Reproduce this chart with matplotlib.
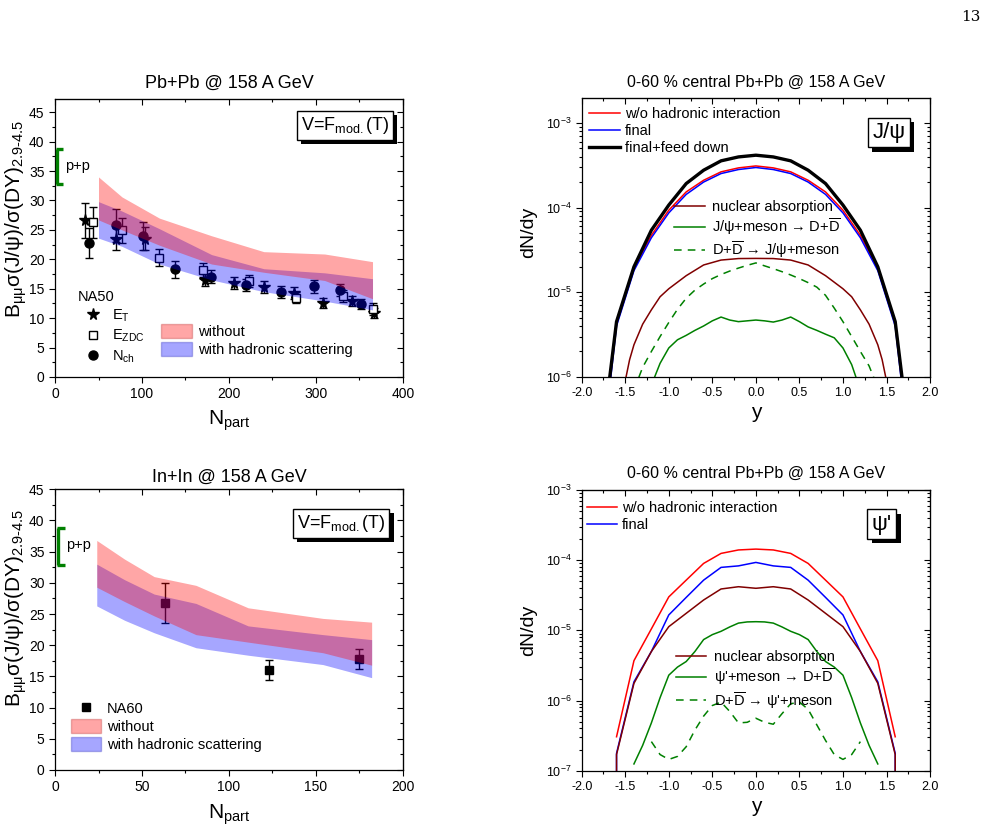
import numpy as np
import matplotlib
matplotlib.use('Agg')
import matplotlib.pyplot as plt
import matplotlib.patheffects as pe
from matplotlib.lines import Line2D
from matplotlib.patches import Patch
from matplotlib.ticker import MultipleLocator, LogLocator, NullFormatter, FormatStrFormatter

plt.rcParams['font.family'] = ['Liberation Sans', 'DejaVu Sans']
plt.rcParams['mathtext.fontset'] = 'custom'
plt.rcParams['mathtext.rm'] = 'Liberation Sans'
plt.rcParams['mathtext.it'] = 'Liberation Sans:italic'
plt.rcParams['mathtext.bf'] = 'Liberation Sans:bold'
plt.rcParams['mathtext.sf'] = 'Liberation Sans'
plt.rcParams['mathtext.default'] = 'regular'
plt.rcParams['axes.unicode_minus'] = False

# ---------------- Pb+Pb (NA50) ----------------
et_npart = [34, 70, 104, 172, 206, 240, 275, 308, 341, 367]
et_ratio = [26.6, 23.4, 23.5, 16.5, 16.0, 15.3, 14.3, 12.6, 12.9, 10.9]
et_err = [3.0, 1.9, 2.0, 1.0, 1.0, 1.0, 1.0, 0.8, 0.9, 0.8]
zdc_npart = [44, 77, 119, 170, 223, 277, 331, 366]
zdc_ratio = [26.3, 24.9, 20.3, 18.2, 16.3, 13.5, 13.7, 11.5]
zdc_err = [2.6, 2.1, 1.4, 1.2, 1.0, 0.9, 1.0, 1.0]
nch_npart = [39, 70, 101, 138, 179, 220, 260, 298, 328, 352]
nch_ratio = [22.8, 25.8, 24.0, 18.3, 17.0, 15.6, 14.5, 15.4, 14.8, 12.4]
nch_err = [2.6, 2.8, 2.4, 1.4, 1.1, 1.0, 1.0, 1.1, 1.0, 0.9]

pb_band_npart = [50, 77, 120, 180, 240, 310, 365]
pb_without_hi = [34.0, 30.6, 27.0, 24.0, 21.3, 20.9, 19.6]
pb_without_lo = [26.7, 25.0, 22.4, 19.2, 17.8, 16.4, 13.3]
pb_with_hi = [29.8, 28.2, 25.2, 20.8, 18.4, 17.7, 16.7]
pb_with_lo = [23.6, 22.2, 19.2, 16.5, 14.5, 12.9, 11.4]

pp_npart = 2.5
pp_range = [32.8, 38.8]

# ---------------- In+In (NA60) ----------------
na60_npart = [63, 123, 175]
na60_ratio = [26.8, 16.1, 17.8]
na60_err = [3.2, 1.6, 1.6]

in_band_npart = [24, 40, 57, 81, 111, 154, 182]
in_without_hi = [36.8, 33.8, 31.0, 29.6, 26.0, 24.3, 23.7]
in_without_lo = [29.3, 27.0, 24.7, 21.7, 20.5, 18.8, 16.8]
in_with_hi = [33.0, 30.5, 28.2, 26.7, 23.1, 21.7, 20.9]
in_with_lo = [26.3, 24.0, 22.0, 19.6, 18.4, 16.9, 14.8]

# ---------------- J/psi rapidity ----------------
rap_jpsi = [-1.7, -1.6, -1.4, -1.2, -1.0, -0.8, -0.6, -0.4, -0.2, 0.0,
            0.2, 0.4, 0.6, 0.8, 1.0, 1.2, 1.4, 1.6, 1.7]
jpsi_feed = [6.5e-7, 4.5e-6, 2.0e-5, 5.4e-5, 1.07e-4, 1.92e-4, 2.76e-4, 3.56e-4, 3.96e-4, 4.15e-4,
             3.96e-4, 3.56e-4, 2.76e-4, 1.92e-4, 1.07e-4, 5.4e-5, 2.0e-5, 4.5e-6, 6.5e-7]
jpsi_woh = [5.5e-7, 4.3e-6, 1.91e-5, 4.7e-5, 9.3e-5, 1.53e-4, 2.1e-4, 2.64e-4, 2.94e-4, 3.10e-4,
            2.94e-4, 2.64e-4, 2.1e-4, 1.53e-4, 9.3e-5, 4.7e-5, 1.91e-5, 4.3e-6, 5.5e-7]
jpsi_final = [4.8e-7, 4.0e-6, 1.8e-5, 4.4e-5, 8.65e-5, 1.43e-4, 2.0e-4, 2.52e-4, 2.81e-4, 2.97e-4,
              2.81e-4, 2.52e-4, 2.0e-4, 1.43e-4, 8.65e-5, 4.4e-5, 1.8e-5, 4.0e-6, 4.8e-7]

rap_jpsi_abs = [-1.5, -1.45, -1.4, -1.3, -1.2, -1.1, -1.0, -0.8, -0.6, -0.4, -0.2, 0.0,
                0.2, 0.4, 0.6, 0.8, 1.0, 1.1, 1.2, 1.3, 1.4, 1.45, 1.5]
jpsi_abs = [9e-7, 1.6e-6, 2.4e-6, 4.2e-6, 6.2e-6, 8.85e-6, 1.1e-5, 1.57e-5, 2.1e-5, 2.4e-5, 2.5e-5, 2.51e-5,
            2.5e-5, 2.4e-5, 2.1e-5, 1.57e-5, 1.1e-5, 8.85e-6, 6.2e-6, 4.2e-6, 2.4e-6, 1.6e-6, 9e-7]

rap_jpsi_diss = [-1.2, -1.1, -1.0, -0.9, -0.8, -0.7, -0.6, -0.5, -0.4, -0.3, -0.2, -0.1, 0.0,
                 0.1, 0.2, 0.3, 0.4, 0.5, 0.6, 0.7, 0.8, 0.9, 1.0, 1.1, 1.2]
jpsi_diss = [8.0e-7, 1.45e-6, 2.2e-6, 2.75e-6, 3.1e-6, 3.55e-6, 4.0e-6, 4.6e-6, 5.1e-6, 4.7e-6, 4.5e-6, 4.6e-6, 4.7e-6,
             4.6e-6, 4.45e-6, 4.7e-6, 5.1e-6, 4.5e-6, 3.9e-6, 3.55e-6, 3.2e-6, 2.9e-6, 2.2e-6, 1.4e-6, 7.0e-7]

rap_jpsi_reg = [-1.4, -1.3, -1.2, -1.1, -1.0, -0.9, -0.8, -0.7, -0.6, -0.5, -0.4, -0.3, -0.2, -0.1, 0.0,
                0.1, 0.2, 0.3, 0.4, 0.5, 0.6, 0.7, 0.8, 0.9, 1.0, 1.1, 1.2, 1.3, 1.4]
jpsi_reg = [7.0e-7, 1.3e-6, 2.0e-6, 3.0e-6, 4.4e-6, 6.3e-6, 8.5e-6, 1.06e-5, 1.25e-5, 1.45e-5, 1.62e-5, 1.78e-5,
            1.93e-5, 2.08e-5, 2.22e-5, 2.05e-5, 1.9e-5, 1.75e-5, 1.6e-5, 1.45e-5, 1.3e-5, 1.15e-5, 9.2e-6,
            6.5e-6, 4.5e-6, 3.0e-6, 2.0e-6, 1.35e-6, 7.5e-7]

# ---------------- psi' rapidity ----------------
rap_psi = [-1.6, -1.4, -1.2, -1.0, -0.8, -0.6, -0.4, -0.2, 0.0, 0.2, 0.4, 0.6, 0.8, 1.0, 1.2, 1.4, 1.6]
psi_woh = [3.05e-7, 3.7e-6, 1.05e-5, 3.0e-5, 5.2e-5, 9.0e-5, 1.25e-4, 1.40e-4, 1.44e-4,
           1.40e-4, 1.25e-4, 9.0e-5, 5.2e-5, 3.0e-5, 1.05e-5, 3.7e-6, 3.05e-7]
rap_psi_edge = [-1.6, -1.6, -1.4, -1.2, -1.0, -0.8, -0.6, -0.4, -0.2, 0.0,
                0.2, 0.4, 0.6, 0.8, 1.0, 1.2, 1.4, 1.6, 1.6]
psi_final = [1e-9, 1.77e-7, 1.85e-6, 5.0e-6, 1.66e-5, 2.95e-5, 5.2e-5, 7.9e-5, 8.3e-5, 9.3e-5,
             8.3e-5, 7.9e-5, 5.2e-5, 2.95e-5, 1.66e-5, 5.0e-6, 1.85e-6, 1.77e-7, 1e-9]
psi_abs = [1e-9, 1.7e-7, 1.76e-6, 5.0e-6, 1.13e-5, 1.75e-5, 2.71e-5, 3.89e-5, 4.19e-5, 3.98e-5,
           4.19e-5, 3.89e-5, 2.71e-5, 1.75e-5, 1.13e-5, 5.0e-6, 1.76e-6, 1.7e-7, 1e-9]

rap_psi_diss = [-1.4, -1.3, -1.2, -1.1, -1.0, -0.9, -0.8, -0.7, -0.6, -0.5, -0.4, -0.3, -0.2, -0.1, 0.0,
                0.1, 0.2, 0.3, 0.4, 0.5, 0.6, 0.7, 0.8, 0.9, 1.0, 1.1, 1.2, 1.3, 1.4]
psi_diss = [1.25e-7, 2.3e-7, 4.8e-7, 1.1e-6, 2.3e-6, 3.0e-6, 3.6e-6, 5.0e-6, 7.4e-6, 8.7e-6, 9.7e-6, 1.12e-5,
            1.27e-5, 1.32e-5, 1.33e-5, 1.32e-5, 1.27e-5, 1.12e-5, 9.7e-6, 8.7e-6, 7.4e-6, 5.0e-6, 3.6e-6,
            3.0e-6, 2.3e-6, 1.1e-6, 4.8e-7, 2.3e-7, 1.25e-7]

rap_psi_reg = [-1.2, -1.1, -1.0, -0.9, -0.8, -0.7, -0.6, -0.5, -0.4, -0.3, -0.2, -0.1, 0.0,
               0.1, 0.2, 0.3, 0.4, 0.5, 0.6, 0.7, 0.8, 0.9, 1.0, 1.1, 1.2]
psi_reg = [2.6e-7, 1.7e-7, 1.45e-7, 1.6e-7, 2.2e-7, 3.8e-7, 6.0e-7, 8.5e-7, 9.5e-7, 7.0e-7, 4.8e-7, 4.9e-7, 5.6e-7,
           4.9e-7, 4.6e-7, 6.5e-7, 9.0e-7, 9.5e-7, 7.5e-7, 4.5e-7, 2.7e-7, 1.7e-7, 1.45e-7, 1.7e-7, 2.6e-7]

# ---------------- styling ----------------
PINK = (1.0, 0.0, 0.0)
BLUE = (0.0, 0.0, 1.0)
BAND_ALPHA = 0.35
GREEN = '#008000'
MAROON = '#800000'

fig = plt.figure(figsize=(9.93, 8.30), dpi=100)
ax_tl = fig.add_axes([0.0554, 0.5458, 0.3504, 0.3346])
ax_tr = fig.add_axes([0.5858, 0.5458, 0.3508, 0.3358])
ax_bl = fig.add_axes([0.0554, 0.0723, 0.3504, 0.3382])
ax_br = fig.add_axes([0.5858, 0.0714, 0.3508, 0.3382])


def style_axes(ax, xmaj, xmin, ymaj=None, ymin=None, log=False, labelsize=10):
    ax.tick_params(which='both', direction='out', top=False, right=False, labelsize=labelsize, width=0.8)
    ax.tick_params(which='major', length=4)
    ax.tick_params(which='minor', length=2.3)
    ax.xaxis.set_major_locator(MultipleLocator(xmaj))
    ax.xaxis.set_minor_locator(MultipleLocator(xmin))
    if log:
        ax.set_yscale('log')
        ax.yaxis.set_major_locator(LogLocator(base=10, numticks=10))
        ax.yaxis.set_minor_locator(LogLocator(base=10, subs=np.arange(2, 10), numticks=20))
        ax.yaxis.set_minor_formatter(NullFormatter())
    else:
        ax.yaxis.set_major_locator(MultipleLocator(ymaj))
        ax.yaxis.set_minor_locator(MultipleLocator(ymin))
    for sp in ax.spines.values():
        sp.set_linewidth(0.9)
    secx = ax.secondary_xaxis('top')
    secx.xaxis.set_major_locator(MultipleLocator(xmaj))
    secx.xaxis.set_minor_locator(MultipleLocator(xmin))
    secx.tick_params(which='both', direction='in', labeltop=False, width=0.8)
    secx.tick_params(which='major', length=4)
    secx.tick_params(which='minor', length=2.3)
    secy = ax.secondary_yaxis('right')
    if log:
        secy.yaxis.set_major_locator(LogLocator(base=10, numticks=10))
        secy.yaxis.set_minor_locator(LogLocator(base=10, subs=np.arange(2, 10), numticks=20))
        secy.yaxis.set_minor_formatter(NullFormatter())
    else:
        secy.yaxis.set_major_locator(MultipleLocator(ymaj))
        secy.yaxis.set_minor_locator(MultipleLocator(ymin))
    secy.tick_params(which='both', direction='in', labelright=False, width=0.8)
    secy.tick_params(which='major', length=4)
    secy.tick_params(which='minor', length=2.3)


def shadow_box(ax, x, y, s, fs, pad=0.25):
    t = ax.text(x, y, s, transform=ax.transAxes, ha='center', va='center', fontsize=fs, color='black',
                bbox=dict(boxstyle=f'square,pad={pad}', fc='white', ec='black', lw=1), zorder=10)
    t.get_bbox_patch().set_path_effects([
        pe.SimplePatchShadow(offset=(3.2, -3.0), shadow_rgbFace='black', alpha=1.0), pe.Normal()])
    return t


ylab_ratio = r'B$_{μμ}$σ(J/ψ)/σ(DY)$_{2.9\text{-}4.5}$'

# ================= top-left: Pb+Pb =================
ax = ax_tl
ax.set_xlim(0, 400)
ax.set_ylim(0, 47.2)
style_axes(ax, 100, 50, 5, 2.5)
eb = dict(color='black', ecolor='black', elinewidth=1.0, capsize=3, capthick=1.0, ls='none', zorder=2)
ax.errorbar(et_npart, et_ratio, yerr=et_err, marker='*', ms=8.5, **eb)
ax.errorbar(zdc_npart, zdc_ratio, yerr=zdc_err, marker='s', ms=5.5, mfc='white', mec='black', mew=1.0, **eb)
ax.errorbar(nch_npart, nch_ratio, yerr=nch_err, marker='o', ms=6.5, **eb)
ax.fill_between(pb_band_npart, pb_with_lo, pb_with_hi, color=BLUE, alpha=BAND_ALPHA, lw=0, zorder=3)
ax.fill_between(pb_band_npart, pb_without_lo, pb_without_hi, color=PINK, alpha=BAND_ALPHA, lw=0, zorder=3)
ax.vlines(pp_npart, pp_range[0], pp_range[1], color=GREEN, lw=2.4, zorder=4)
ax.hlines(pp_range, pp_npart - 1, pp_npart + 7, color=GREEN, lw=2.4, zorder=4)
ax.text(pp_npart + 9, np.mean(pp_range), 'p+p', fontsize=10.5, va='center', ha='left')
ax.set_title('Pb+Pb @ 158 A GeV', fontsize=13, pad=8)
ax.set_xlabel(r'N$_{part}$', fontsize=15)
ax.xaxis.set_label_coords(0.5, -0.115)
ax.set_ylabel(ylab_ratio, fontsize=15)
ax.yaxis.set_label_coords(-0.076, 0.57)
shadow_box(ax, 0.833, 0.907, r'V=F$_{mod.}$(T)', 13, pad=0.22)

na50_handles = [Line2D([], [], marker='*', ms=8.5, color='black', ls='none'),
                Line2D([], [], marker='s', ms=5.5, mfc='white', mec='black', ls='none'),
                Line2D([], [], marker='o', ms=6.5, color='black', ls='none')]
leg1 = ax.legend(na50_handles, [r'E$_T$', r'E$_{ZDC}$', r'N$_{ch}$'], title='NA50', loc='upper left',
                 bbox_to_anchor=(0.066, 0.315), frameon=False, fontsize=10.5, title_fontsize=10.5,
                 handlelength=2.0, handletextpad=0.35, labelspacing=0.28, borderpad=0, borderaxespad=0,
                 alignment='left')
ax.add_artist(leg1)
band_handles = [Patch(facecolor=PINK, alpha=BAND_ALPHA, edgecolor=(0.75, 0.2, 0.2)),
                Patch(facecolor=BLUE, alpha=BAND_ALPHA, edgecolor=(0.2, 0.2, 0.75))]
ax.legend(band_handles, ['without', 'with hadronic scattering'], loc='upper left',
          bbox_to_anchor=(0.305, 0.19), frameon=False, fontsize=10.5, handlelength=2.1,
          handleheight=1.1, handletextpad=0.4, labelspacing=0.2, borderpad=0, borderaxespad=0)

# ================= bottom-left: In+In =================
ax = ax_bl
ax.set_xlim(0, 200)
ax.set_ylim(0, 45)
style_axes(ax, 50, 25, 5, 2.5)
ax.errorbar(na60_npart, na60_ratio, yerr=na60_err, marker='s', ms=6, **eb)
ax.fill_between(in_band_npart, in_with_lo, in_with_hi, color=BLUE, alpha=BAND_ALPHA, lw=0, zorder=3)
ax.fill_between(in_band_npart, in_without_lo, in_without_hi, color=PINK, alpha=BAND_ALPHA, lw=0, zorder=3)
ax.vlines(pp_npart * 0.5 + 0.6, pp_range[0], pp_range[1], color=GREEN, lw=2.4, zorder=4)
ax.hlines(pp_range, pp_npart * 0.5 + 0.1, pp_npart * 0.5 + 4.5, color=GREEN, lw=2.4, zorder=4)
ax.text(pp_npart * 0.5 + 5, np.mean(pp_range) + 0.2, 'p+p', fontsize=10.5, va='center', ha='left')
ax.set_title('In+In @ 158 A GeV', fontsize=13, pad=5.5)
ax.set_xlabel(r'N$_{part}$', fontsize=15)
ax.xaxis.set_label_coords(0.5, -0.115)
ax.set_ylabel(ylab_ratio, fontsize=15)
ax.yaxis.set_label_coords(-0.076, 0.577)
shadow_box(ax, 0.822, 0.878, r'V=F$_{mod.}$(T)', 13, pad=0.22)
na60_handles = [Line2D([], [], marker='s', ms=6, color='black', ls='none'),
                Patch(facecolor=PINK, alpha=BAND_ALPHA, edgecolor=(0.75, 0.2, 0.2)),
                Patch(facecolor=BLUE, alpha=BAND_ALPHA, edgecolor=(0.2, 0.2, 0.75))]
ax.legend(na60_handles, ['NA60', 'without', 'with hadronic scattering'], loc='upper left',
          bbox_to_anchor=(0.045, 0.245), frameon=False, fontsize=10.5, handlelength=2.1,
          handleheight=1.1, handletextpad=0.4, labelspacing=0.2, borderpad=0, borderaxespad=0)

# ================= top-right: J/psi =================
ax = ax_tr
ax.set_xlim(-2, 2)
ax.set_ylim(1e-6, 1.95e-3)
style_axes(ax, 0.5, 0.25, log=True, labelsize=9)
ax.xaxis.set_major_formatter(FormatStrFormatter('%.1f'))
l_woh, = ax.plot(rap_jpsi, jpsi_woh, color='red', lw=1.1)
l_fin, = ax.plot(rap_jpsi, jpsi_final, color='blue', lw=1.1)
l_feed, = ax.plot(rap_jpsi, jpsi_feed, color='black', lw=2.4)
l_abs, = ax.plot(rap_jpsi_abs, jpsi_abs, color=MAROON, lw=1.1)
l_diss, = ax.plot(rap_jpsi_diss, jpsi_diss, color=GREEN, lw=1.1)
l_reg, = ax.plot(rap_jpsi_reg, jpsi_reg, color=GREEN, lw=1.1, ls=(0, (5, 4)))
ax.set_title('0-60 % central Pb+Pb @ 158 A GeV', fontsize=11.5, pad=8)
ax.set_xlabel('y', fontsize=15)
ax.xaxis.set_label_coords(0.5, -0.095)
ax.set_ylabel('dN/dy', fontsize=14)
ax.yaxis.set_label_coords(-0.128, 0.52)
shadow_box(ax, 0.882, 0.877, 'J/ψ', 16, pad=0.2)
lg = ax.legend([l_woh, l_fin, l_feed], ['w/o hadronic interaction', 'final', 'final+feed down'],
               loc='upper left', bbox_to_anchor=(0.022, 0.967), frameon=False, fontsize=10.5,
               handlelength=2.1, handletextpad=0.35, labelspacing=0.2, borderpad=0, borderaxespad=0)
ax.add_artist(lg)
ax.legend([l_abs, l_diss, l_reg], ['nuclear absorption', 'J/ψ+meson → D+$\\overline{D}$',
                                   'D+$\\overline{D}$ → J/ψ+meson'],
          loc='upper left', bbox_to_anchor=(0.266, 0.635), frameon=False, fontsize=10.5,
          handlelength=2.1, handletextpad=0.5, labelspacing=0.18, borderpad=0, borderaxespad=0)

# ================= bottom-right: psi' =================
ax = ax_br
ax.set_xlim(-2, 2)
ax.set_ylim(1e-7, 1e-3)
style_axes(ax, 0.5, 0.25, log=True, labelsize=9)
ax.xaxis.set_major_formatter(FormatStrFormatter('%.1f'))
p_woh, = ax.plot(rap_psi, psi_woh, color='red', lw=1.1)
p_fin, = ax.plot(rap_psi_edge, psi_final, color='blue', lw=1.1)
p_abs, = ax.plot(rap_psi_edge, psi_abs, color=MAROON, lw=1.1)
p_diss, = ax.plot(rap_psi_diss, psi_diss, color=GREEN, lw=1.1)
p_reg, = ax.plot(rap_psi_reg, psi_reg, color=GREEN, lw=1.1, ls=(0, (5, 4)))
ax.set_title('0-60 % central Pb+Pb @ 158 A GeV', fontsize=11.5, pad=9)
ax.set_xlabel('y', fontsize=15)
ax.xaxis.set_label_coords(0.5, -0.095)
ax.set_ylabel('dN/dy', fontsize=14)
ax.yaxis.set_label_coords(-0.128, 0.5)
shadow_box(ax, 0.861, 0.878, "ψ'", 16, pad=0.2)
lg = ax.legend([p_woh, p_fin], ['w/o hadronic interaction', 'final'],
               loc='upper left', bbox_to_anchor=(0.014, 0.962), frameon=False, fontsize=10.5,
               handlelength=2.1, handletextpad=0.35, labelspacing=0.2, borderpad=0, borderaxespad=0)
ax.add_artist(lg)
ax.legend([p_abs, p_diss, p_reg], ['nuclear absorption', "ψ'+meson → D+$\\overline{D}$",
                                   "D+$\\overline{D}$ → ψ'+meson"],
          loc='upper left', bbox_to_anchor=(0.27, 0.43), frameon=False, fontsize=10.5,
          handlelength=2.1, handletextpad=0.5, labelspacing=0.18, borderpad=0, borderaxespad=0)

fig.text(0.987, 0.988, '13', ha='right', va='top', fontsize=11, family='DejaVu Serif')

fig.savefig('out.png', dpi=100)
